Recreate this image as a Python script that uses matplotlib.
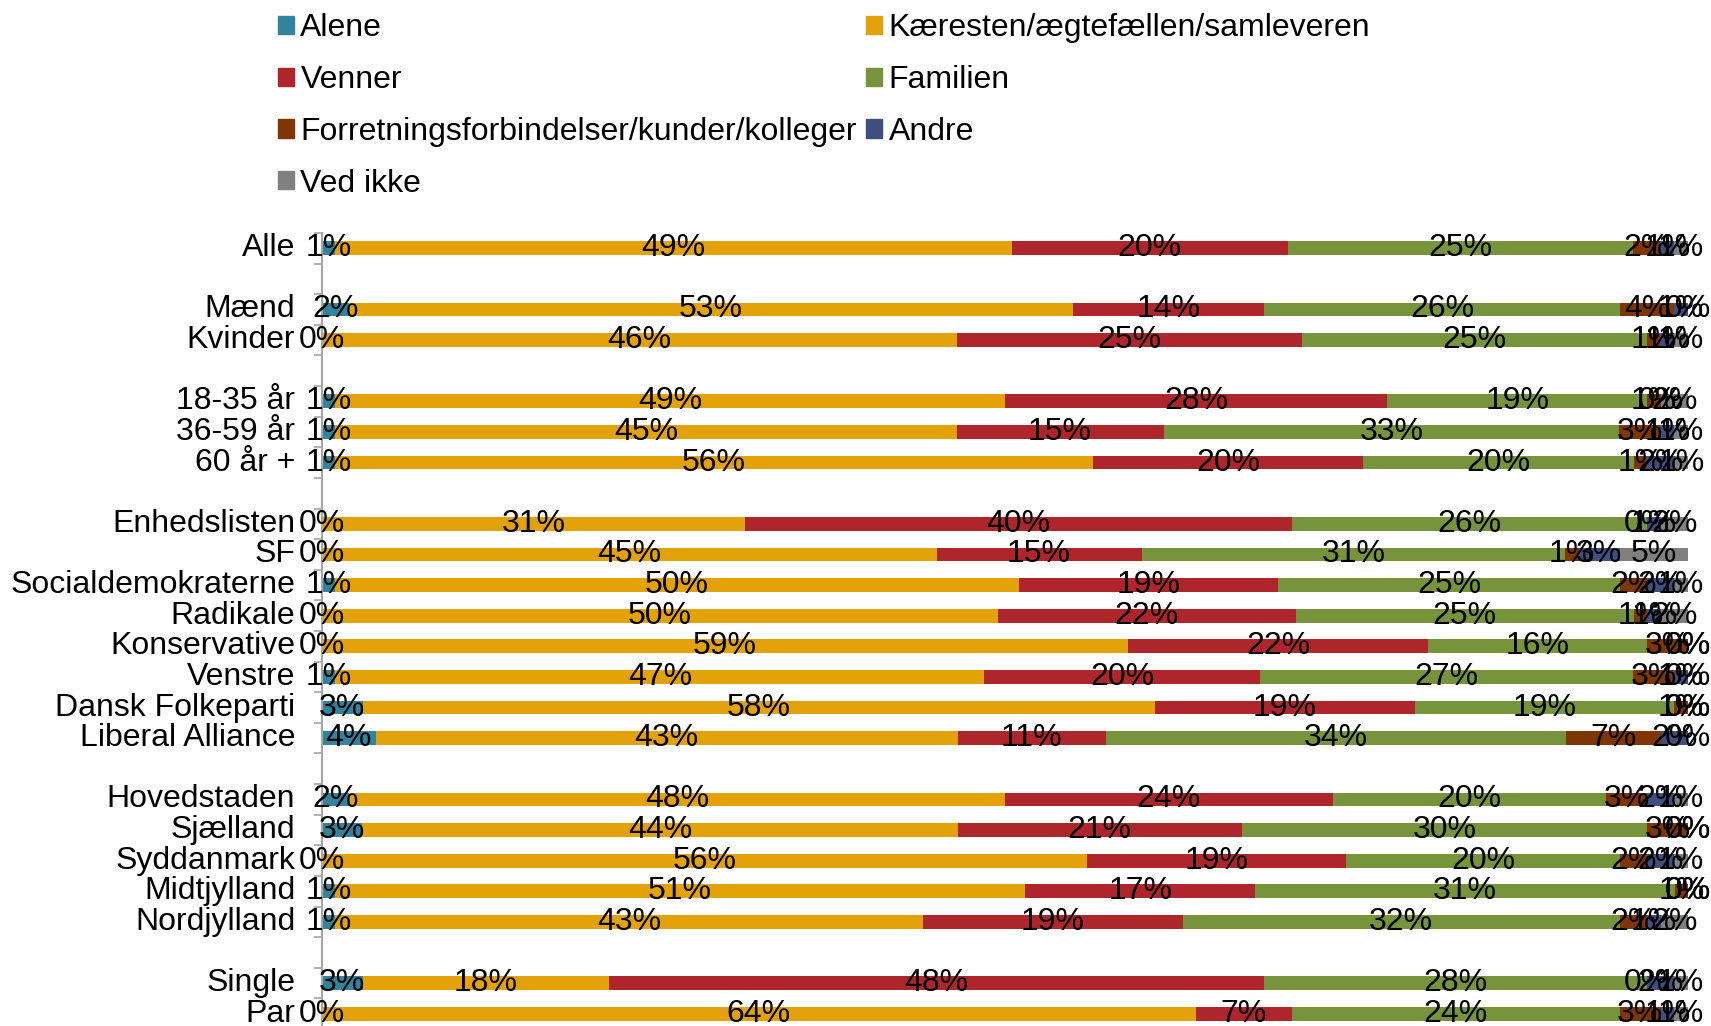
import numpy as np
import matplotlib.pyplot as plt
from matplotlib.patches import Patch

plt.rcParams['font.family'] = ['Liberation Sans', 'DejaVu Sans']

########################### Data ###########################
categories = ['Alle',
              'Mænd', 'Kvinder',
              '18-35 år', '36-59 år', '60 år +',
              'Enhedslisten', 'SF', 'Socialdemokraterne', 'Radikale',
              'Konservative', 'Venstre', 'Dansk Folkeparti', 'Liberal Alliance',
              'Hovedstaden', 'Sjælland', 'Syddanmark', 'Midtjylland', 'Nordjylland',
              'Single', 'Par']
group_sizes = [1, 2, 3, 8, 5, 2]

series_names = ['Alene', 'Kæresten/ægtefællen/samleveren', 'Venner', 'Familien',
                'Forretningsforbindelser/kunder/kolleger', 'Andre', 'Ved ikke']

alene      = [1, 2, 0, 1, 1, 1, 0, 0, 1, 0, 0, 1, 3, 4, 2, 3, 0, 1, 1, 3, 0]
kaeresten  = [49, 53, 46, 49, 45, 56, 31, 45, 50, 50, 59, 47, 58, 43, 48, 44, 56, 51, 43, 18, 64]
venner     = [20, 14, 25, 28, 15, 20, 40, 15, 19, 22, 22, 20, 19, 11, 24, 21, 19, 17, 19, 48, 7]
familien   = [25, 26, 25, 19, 33, 20, 26, 31, 25, 25, 16, 27, 19, 34, 20, 30, 20, 31, 32, 28, 24]
forretning = [2, 4, 1, 1, 3, 1, 0, 1, 2, 1, 3, 3, 1, 7, 3, 3, 2, 1, 2, 0, 3]
andre      = [1, 1, 1, 0, 1, 2, 1, 3, 2, 1, 0, 1, 0, 2, 2, 0, 2, 0, 1, 2, 1]
ved_ikke   = [1, 0, 1, 2, 1, 1, 2, 5, 1, 2, 0, 0, 0, 0, 1, 0, 1, 0, 2, 1, 1]

colors = ['#31849B', '#E3A20A', '#AE262C', '#77933C', '#7F3504', '#3F4F7F', '#808080']

########################### Plot ###########################
data = np.array([alene, kaeresten, venner, familien, forretning, andre, ved_ikke], dtype=float)
shares = data / data.sum(axis=0) * 100   # 100% stacked

# row positions with an empty slot between groups
pos = []
y = 0
for g in group_sizes:
    for i in range(g):
        pos.append(y)
        y += 1
    y += 1
n_slots = y - 1
pos = np.array(pos)

fs = 23
fig = plt.figure(figsize=(17.11, 10.26), dpi=100)
ax = fig.add_axes([0.188, -0.003, 0.7986, 0.776])

left = np.zeros(len(categories))
for k in range(len(series_names)):
    ax.barh(pos, shares[k], left=left, height=0.45, color=colors[k], label=series_names[k])
    for yy, l, w, v in zip(pos, left, shares[k], data[k]):
        ax.text(l + w / 2, yy, '%d%%' % v, ha='center', va='center', fontsize=fs, color='black')
    left += shares[k]

ax.set_xlim(0, 100)
ax.set_ylim(n_slots - 0.5, -0.5)
ax.set_yticks(pos)
ax.set_yticklabels(categories, fontsize=fs, va='center')
ax.set_yticks(np.arange(-0.5, n_slots, 1), minor=True)
ax.tick_params(axis='y', which='major', length=0, pad=19)
ax.tick_params(axis='y', which='minor', length=6, width=1.2, color='#A6A6A6', direction='out')
ax.xaxis.set_visible(False)
for s in ['top', 'right', 'bottom']:
    ax.spines[s].set_visible(False)
ax.spines['left'].set_color('#A6A6A6')
ax.spines['left'].set_linewidth(1.5)

# legend: row-wise order in two columns
order = [0, 2, 4, 6, 1, 3, 5]
handles = [Patch(color=colors[i]) for i in order]
labels = [series_names[i] for i in order]
fig.legend(handles, labels, loc='upper left', bbox_to_anchor=(0.1625, 0.987), ncol=2,
           frameon=False, fontsize=fs, handlelength=0.5, handleheight=0.5,
           handletextpad=0.2, columnspacing=0.3, labelspacing=0.68, borderpad=0,
           borderaxespad=0)

fig.savefig('out.png', dpi=100)
